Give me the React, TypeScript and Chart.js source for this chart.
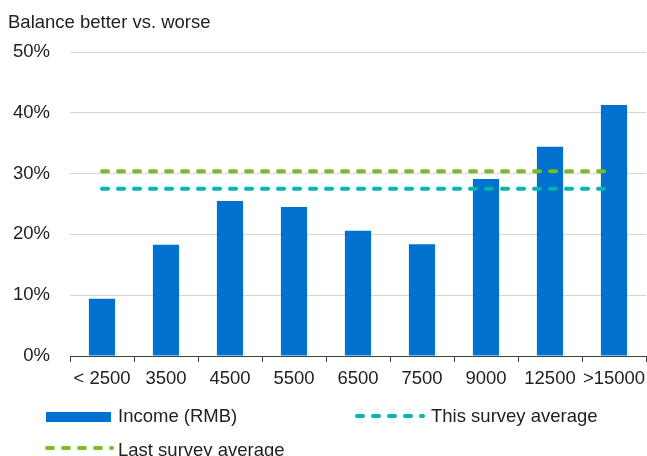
import React, { useEffect, useRef } from "react";
import { Chart, registerables } from "chart.js";

Chart.register(...registerables);

const categories = ["< 2500", "3500", "4500", "5500", "6500", "7500", "9000", "12500", ">15000"];
const incomeValues = [9.4, 18.3, 25.5, 24.5, 20.6, 18.4, 29.1, 34.4, 41.3];
const thisSurveyAverage = 27.5;
const lastSurveyAverage = 30.4;
const yTicks = [0, 10, 20, 30, 40, 50];

const FONT = "'Liberation Sans', Arial, Helvetica, sans-serif";
const TEXT = "#222222";
const BLUE = "#0071CE";
const TEAL = "#00B5AA";
const GREEN = "#79BC21";

const overlayPlugin = {
  id: "overlay",
  afterDraw(chart: any) {
    const ctx = chart.ctx as CanvasRenderingContext2D;
    ctx.save();
    ctx.fillStyle = TEXT;
    ctx.font = `18.5px ${FONT}`;
    ctx.textBaseline = "alphabetic";
    ctx.textAlign = "left";
    ctx.fillText("Balance better vs. worse", 8, 28);

    // legend: Income (RMB)
    ctx.fillStyle = BLUE;
    ctx.fillRect(46, 412, 65, 10);
    ctx.fillStyle = TEXT;
    ctx.fillText("Income (RMB)", 118, 422);

    const dashed = (x1: number, x2: number, y: number, color: string) => {
      ctx.save();
      ctx.strokeStyle = color;
      ctx.lineWidth = 4;
      ctx.lineCap = "round";
      ctx.setLineDash([6, 10]);
      ctx.beginPath();
      ctx.moveTo(x1, y);
      ctx.lineTo(x2, y);
      ctx.stroke();
      ctx.restore();
    };
    dashed(357, 423, 416, TEAL);
    ctx.fillText("This survey average", 431, 422);
    dashed(47, 112, 448, GREEN);
    ctx.fillText("Last survey average", 118, 456);
    ctx.restore();
  },
};

export default function App() {
  const ref = useRef<HTMLCanvasElement>(null);
  useEffect(() => {
    if (!ref.current) return;
    const chart = new Chart(ref.current, {
      type: "bar",
      data: {
        labels: categories,
        datasets: [
          {
            type: "bar",
            label: "Income (RMB)",
            data: incomeValues,
            backgroundColor: BLUE,
            borderWidth: 0,
            barPercentage: 0.41,
            categoryPercentage: 1,
            order: 2,
          },
          {
            type: "line",
            label: "This survey average",
            data: categories.map(() => thisSurveyAverage),
            borderColor: TEAL,
            borderWidth: 4,
            borderDash: [6, 10],
            borderCapStyle: "round",
            pointRadius: 0,
            fill: false,
            order: 1,
          },
          {
            type: "line",
            label: "Last survey average",
            data: categories.map(() => lastSurveyAverage),
            borderColor: GREEN,
            borderWidth: 4,
            borderDash: [6, 10],
            borderCapStyle: "round",
            pointRadius: 0,
            fill: false,
            order: 1,
          },
        ],
      } as any,
      options: {
        responsive: false,
        animation: false,
        layout: { padding: { left: 0, right: 1, top: 52, bottom: 60 } },
        plugins: {
          legend: { display: false },
          tooltip: { enabled: false },
          title: { display: false },
        },
        scales: {
          x: {
            grid: {
              offset: true,
              drawOnChartArea: false,
              drawTicks: true,
              tickLength: 6,
              color: "#404040",
            },
            border: { display: true, color: "#404040", width: 1 },
            ticks: {
              color: TEXT,
              font: { family: FONT, size: 18.5 },
              padding: 6,
              maxRotation: 0,
              autoSkip: false,
            },
            afterFit: (s: any) => {
              s.height = 40;
              s.paddingLeft = 0;
              s.paddingRight = 0;
            },
          },
          y: {
            min: 0,
            max: 50,
            afterBuildTicks: (s: any) => {
              s.ticks = yTicks.map((v) => ({ value: v }));
            },
            grid: { color: "#d4d4d4", lineWidth: 1, drawTicks: false },
            border: { display: false },
            ticks: {
              color: TEXT,
              font: { family: FONT, size: 18.5 },
              padding: 20,
              callback: (v: any) => `${v}%`,
            },
            afterFit: (s: any) => {
              s.width = 70;
              s.paddingTop = 0;
              s.paddingBottom = 0;
            },
          },
        },
      } as any,
      plugins: [overlayPlugin],
    });
    return () => chart.destroy();
  }, []);
  return (
    <div style={{ position: "absolute", left: 0, top: 0, width: 647, height: 456 }}>
      <canvas ref={ref} width={647} height={456} style={{ display: "block" }} />
    </div>
  );
}
